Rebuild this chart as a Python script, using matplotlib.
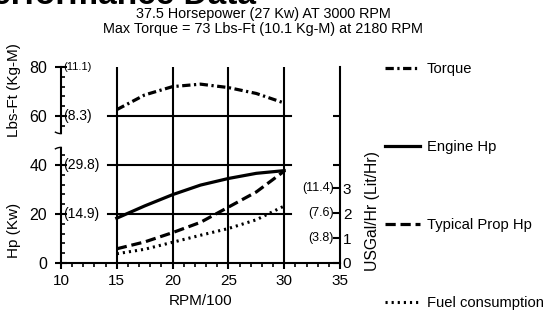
import matplotlib
matplotlib.use('Agg')
import matplotlib.pyplot as plt
from matplotlib.ticker import FixedLocator
import numpy as np

plt.rcParams['font.family'] = ['Liberation Sans', 'DejaVu Sans']

# Дані
rpm = [15, 17.5, 20, 22.5, 25, 27.5, 30]
torque = [62.6, 68.6, 72.0, 73.0, 71.6, 69.2, 65.3]      # Lbs-Ft
engine_hp = [18.3, 23.3, 27.9, 31.8, 34.5, 36.6, 37.7]   # Hp
prop_hp = [5.8, 8.6, 12.4, 16.6, 22.8, 29.0, 37.5]       # Hp
fuel = [0.37, 0.55, 0.83, 1.11, 1.38, 1.73, 2.28]        # USGal/Hr

x_ticks = [10, 15, 20, 25, 30, 35]
left_ticks = [0, 20, 40, 60, 80]
left_inner = ['', '(14.9)', '(29.8)', '(8.3)', '(11.1)']
right_ticks = [0, 1, 2, 3]
right_inner = ['', '(3.8)', '(7.6)', '(11.4)']

fig = plt.figure(figsize=(5.48, 3.18), dpi=100)
ax = fig.add_axes([61 / 548, 55 / 318, 279 / 548, 196 / 318])
ax.set_xlim(10, 35)
ax.set_ylim(0, 80)

# Сітка
for x in [15, 20, 25, 30]:
    ax.plot([x, x], [0, 80], color='black', lw=1.5, zorder=1)
for y in [20, 40, 60]:
    ax.plot([14.2, 30.6], [y, y], color='black', lw=1.5, zorder=1)

l_torque, = ax.plot(rpm, torque, color='black', lw=2.3, dashes=(2.6, 1.1, 0.7, 1.1), label='Torque')
l_engine, = ax.plot(rpm, engine_hp, color='black', lw=2.3, label='Engine Hp')
l_prop, = ax.plot(rpm, prop_hp, color='black', lw=2.3, dashes=(3.2, 1.5), label='Typical Prop Hp')

ax2 = ax.twinx()
ax2.set_ylim(0, 80 / 10.2)
l_fuel, = ax2.plot(rpm, fuel, color='black', lw=2.2, dashes=(0.7, 1.3), label='Fuel consumption')

# Осі
for a in (ax, ax2):
    a.patch.set_visible(False)
    a.spines['top'].set_visible(False)
ax.spines['right'].set_visible(False)
ax2.spines['left'].set_visible(False)
ax2.spines['bottom'].set_visible(False)
ax.spines['left'].set_bounds(0, 47)
ax.plot([10, 10], [53, 80], color='black', lw=1.5, clip_on=False)
for a in (ax.spines['left'], ax.spines['bottom'], ax2.spines['right']):
    a.set_linewidth(1.5)

# Розрив осі
t = np.linspace(0, 1, 20)
ax.plot(10 - 0.5 + t * 0.5, 52.8 + 0.6 * (t - 1) ** 2, color='black', lw=1, clip_on=False)
ax.plot(10 - 0.5 + t * 0.5, 47.2 - 0.6 * (t - 1) ** 2, color='black', lw=1, clip_on=False)

ax.set_xticks(x_ticks)
ax.xaxis.set_minor_locator(FixedLocator([v for v in range(10, 36) if v % 5]))
ax.tick_params(axis='x', which='major', direction='out', length=4, width=1.5, labelsize=11, pad=4)
ax.tick_params(axis='x', which='minor', direction='out', length=3, width=1.2)

ax.set_yticks(left_ticks)
ax.set_yticklabels([str(v) for v in left_ticks])
ax.yaxis.set_minor_locator(FixedLocator([4, 8, 12, 16, 24, 28, 32, 36, 44, 56, 64, 68, 72, 76]))
ax.tick_params(axis='y', which='major', direction='inout', length=8, width=1.5, labelsize=11.5, pad=6)
ax.tick_params(axis='y', which='minor', direction='in', length=3, width=1.2)

for v, s in zip(left_ticks, left_inner):
    fs = 8 if v == 80 else 10
    ax.text(10.2, v, s, fontsize=fs, va='center', ha='left')

ax2.set_yticks(right_ticks + [40 / 10.2, 60 / 10.2])
ax2.set_yticklabels([str(v) for v in right_ticks] + ['', ''])
ax2.tick_params(axis='y', direction='in', length=5, width=1.5, labelsize=11, pad=2)
for v, s in zip(right_ticks, right_inner):
    ax2.text(34.45, v, s, fontsize=9, va='center', ha='right')

ax.set_xlabel('RPM/100', fontsize=11, labelpad=4)
fig.text(14 / 548, 1 - 90 / 318, 'Lbs-Ft (Kg-M)', rotation=90, fontsize=11, ha='center', va='center')
fig.text(14 / 548, 1 - 230 / 318, 'Hp (Kw)', rotation=90, fontsize=11, ha='center', va='center')
fig.text(373 / 548, 1 - 211 / 318, 'USGal/Hr (Lit/Hr)', rotation=90, fontsize=11.3, ha='center', va='center')

fig.text(263 / 548, 1 - 14 / 318, '37.5 Horsepower (27 Kw) AT 3000 RPM', fontsize=10.4, ha='center', va='center')
fig.text(263 / 548, 1 - 29 / 318, 'Max Torque = 73 Lbs-Ft (10.1 Kg-M) at 2180 RPM', fontsize=10.4, ha='center', va='center')
fig.text(-30 / 548, 1 - 4 / 318, 'Performance Data', fontsize=24, fontweight='bold', ha='left', va='baseline')

fig.legend(handles=[l_torque, l_engine, l_prop, l_fuel], loc='upper left',
           bbox_to_anchor=(385 / 548, 1 - 62 / 318), frameon=False, fontsize=10.6,
           labelspacing=4.35, handlelength=2.35, handletextpad=0.5, borderpad=0, borderaxespad=0)

fig.savefig('out.png', dpi=100)
